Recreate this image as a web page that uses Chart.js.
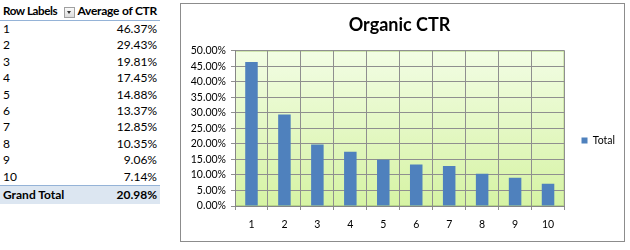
<!DOCTYPE html>
<html>
<head>
<meta charset="utf-8">
<script src="https://cdn.jsdelivr.net/npm/chart.js@4.4.0/dist/chart.umd.min.js"></script>
<style>
	html, body { margin: 0; padding: 0; background: #fff; }
	body { width: 630px; height: 250px; position: relative; overflow: hidden; font-family: Lato, 'Open Sans', sans-serif; color: #000; }
	#pivot { position: absolute; left: 0; top: 0; width: 160px; font-size: 12px; }
	#pivot .row { position: relative; height: 16.4px; line-height: 16.4px; }
	#pivot .head { height: 20px; line-height: 22px; border-bottom: 1px solid #95b3d7; font-weight: bold; }
	#pivot .head .lbl { font-size: 11.6px; letter-spacing: -0.4px; }
	#pivot .head .val { letter-spacing: -0.25px; }
	#pivot .total { height: 18px; line-height: 18px; border-top: 1px solid #95b3d7; background: #dce6f1; font-weight: bold; }
	#pivot .lbl { position: absolute; left: 3px; }
	#pivot .val { position: absolute; right: 3px; }
	#pivot .drop { position: absolute; left: 64px; top: 7px; width: 9px; height: 9px; border: 1px solid #a0a0a0; background: linear-gradient(#fafafa, #dcdcdc); }
	#pivot .drop:after { content: ''; position: absolute; left: 2px; top: 3px; border-left: 2.5px solid transparent; border-right: 2.5px solid transparent; border-top: 3px solid #333; }
	#frame { position: absolute; left: 180px; top: 3px; width: 445px; height: 239px; border: 1px solid #8c8c8c; box-sizing: border-box; background: #fff; }
	#frame canvas { display: block; }
</style>
</head>
<body>
<div id="pivot"></div>
<div id="frame"><canvas id="ctrChart" width="443" height="237"></canvas></div>
<script>
// pivot data
const rowLabels = ['1', '2', '3', '4', '5', '6', '7', '8', '9', '10'];
const ctrValues = [46.37, 29.43, 19.81, 17.45, 14.88, 13.37, 12.85, 10.35, 9.06, 7.14];
const grandTotal = 20.98;
const seriesName = 'Total';
const chartTitle = 'Organic CTR';

const pct = (v) => v.toFixed(2) + '%';

// Left side: the pivot table
const pivot = document.getElementById('pivot');
let html = '<div class="row head"><span class="lbl">Row Labels</span><span class="drop"></span><span class="val">Average of CTR</span></div>';
rowLabels.forEach((label, i) => {
	html += `<div class="row"><span class="lbl">${label}</span><span class="val">${pct(ctrValues[i])}</span></div>`;
});
html += `<div class="row total"><span class="lbl">Grand Total</span><span class="val">${pct(grandTotal)}</span></div>`;
pivot.innerHTML = html;

// Excel-ish green gradient behind the plot
const plotBackground = {
	id: 'plotBackground',
	beforeDraw(chart) {
		const { ctx, chartArea: a } = chart;
		const g = ctx.createLinearGradient(0, a.top, 0, a.bottom);
		g.addColorStop(0, '#f2fde4');
		g.addColorStop(1, '#d6f3a4');
		ctx.save();
		ctx.fillStyle = g;
		ctx.fillRect(a.left, a.top, a.width, a.height);
		ctx.strokeStyle = '#b7d58a';
		ctx.lineWidth = 1;
		ctx.strokeRect(a.left + 0.5, a.top + 0.5, a.width - 1, a.height - 1);
		ctx.restore();
	},
};

// Excel puts the legend a bit lower and further right than Chart.js does
const legendNudge = {
	id: 'legendNudge',
	afterLayout(chart) {
		const l = chart.legend;
		l.left += 7;
		l.right += 7;
		l.top += 18;
		l.bottom += 18;
	},
};

const axisFont = { family: 'Lato, sans-serif', size: 10.5 };
const gridGray = '#8f8f8f';

new Chart(document.getElementById('ctrChart'), {
	type: 'bar',
	data: {
		labels: rowLabels,
		datasets: [
			{
				label: seriesName,
				data: ctrValues,
				backgroundColor: '#4f81bd',
				borderWidth: 0,
				barPercentage: 0.38,
				categoryPercentage: 1,
			},
		],
	},
	options: {
		responsive: false,
		animation: false,
		events: [],
		layout: { padding: { left: 0, right: 6, top: 0, bottom: 0 } },
		plugins: {
			title: {
				display: true,
				text: chartTitle,
				color: '#000',
				font: { family: 'Lato, sans-serif', size: 18, weight: 'bold' },
				padding: { top: 10, bottom: 15 },
			},
			legend: {
				position: 'right',
				labels: {
					boxWidth: 6,
					boxHeight: 6,
					color: '#000',
					font: axisFont,
					padding: 10,
				},
			},
			tooltip: { enabled: false },
		},
		scales: {
			x: {
				grid: {
					offset: true,
					color: gridGray,
					tickColor: gridGray,
					tickLength: 4,
				},
				border: { color: '#868686' },
				ticks: { color: '#000', font: axisFont, padding: 8, autoSkip: false },
				afterFit: (scale) => { scale.height = 35; },
			},
			y: {
				min: 0,
				max: 50,
				grid: { color: gridGray, tickColor: gridGray, tickLength: 4 },
				border: { color: '#868686' },
				ticks: {
					stepSize: 5,
					autoSkip: false,
					color: '#000',
					font: axisFont,
					padding: 5,
					callback: (value) => pct(value),
				},
				afterFit: (scale) => { scale.width = 54; },
			},
		},
	},
	plugins: [plotBackground, legendNudge],
});
</script>
</body>
</html>
